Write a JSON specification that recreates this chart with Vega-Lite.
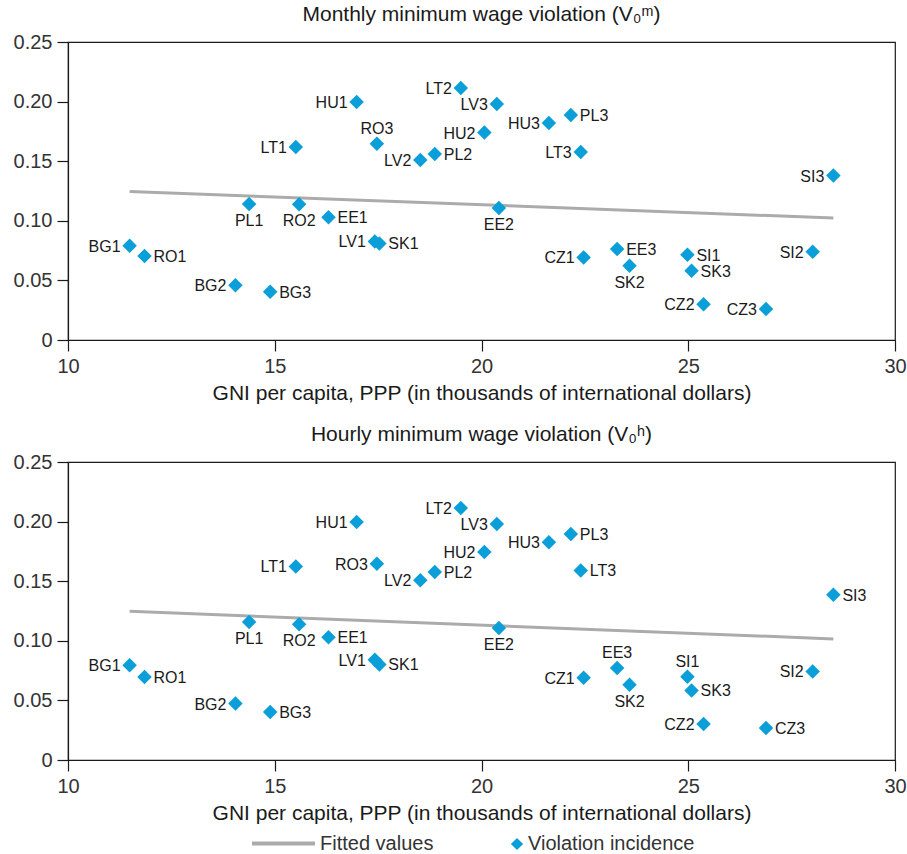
{
  "$schema": "https://vega.github.io/schema/vega-lite/v6.json",
  "padding": {"left": 12, "top": 3, "right": 8, "bottom": 2},
  "background": "white",
  "datasets": {
    "regions": [
      {"region": "BG1", "gni": 11.49, "monthly": 0.0790, "hourly": 0.0794},
      {"region": "RO1", "gni": 11.85, "monthly": 0.0705, "hourly": 0.0696},
      {"region": "BG2", "gni": 14.05, "monthly": 0.0460, "hourly": 0.0473},
      {"region": "BG3", "gni": 14.89, "monthly": 0.0405, "hourly": 0.0402},
      {"region": "PL1", "gni": 14.38, "monthly": 0.1140, "hourly": 0.1158},
      {"region": "RO2", "gni": 15.59, "monthly": 0.1138, "hourly": 0.1138},
      {"region": "EE1", "gni": 16.30, "monthly": 0.1030, "hourly": 0.1029},
      {"region": "LV1", "gni": 17.42, "monthly": 0.0827, "hourly": 0.0841},
      {"region": "SK1", "gni": 17.53, "monthly": 0.0810, "hourly": 0.0802},
      {"region": "LT1", "gni": 15.51, "monthly": 0.1620, "hourly": 0.1624},
      {"region": "HU1", "gni": 16.98, "monthly": 0.1997, "hourly": 0.1997},
      {"region": "RO3", "gni": 17.47, "monthly": 0.1647, "hourly": 0.1647},
      {"region": "LV2", "gni": 18.52, "monthly": 0.1510, "hourly": 0.1507},
      {"region": "PL2", "gni": 18.87, "monthly": 0.1560, "hourly": 0.1577},
      {"region": "LT2", "gni": 19.50, "monthly": 0.2114, "hourly": 0.2114},
      {"region": "LV3", "gni": 20.37, "monthly": 0.1980, "hourly": 0.1980},
      {"region": "HU2", "gni": 20.07, "monthly": 0.1740, "hourly": 0.1745},
      {"region": "HU3", "gni": 21.63, "monthly": 0.1820, "hourly": 0.1826},
      {"region": "PL3", "gni": 22.16, "monthly": 0.1888, "hourly": 0.1896},
      {"region": "LT3", "gni": 22.40, "monthly": 0.1577, "hourly": 0.1590},
      {"region": "SI3", "gni": 28.51, "monthly": 0.1380, "hourly": 0.1387},
      {"region": "EE2", "gni": 20.42, "monthly": 0.1107, "hourly": 0.1107},
      {"region": "CZ1", "gni": 22.47, "monthly": 0.0693, "hourly": 0.0690},
      {"region": "EE3", "gni": 23.28, "monthly": 0.0763, "hourly": 0.0772},
      {"region": "SK2", "gni": 23.58, "monthly": 0.0623, "hourly": 0.0632},
      {"region": "SI1", "gni": 24.98, "monthly": 0.0716, "hourly": 0.0699},
      {"region": "SK3", "gni": 25.08, "monthly": 0.0580, "hourly": 0.0584},
      {"region": "CZ2", "gni": 25.37, "monthly": 0.0299, "hourly": 0.0302},
      {"region": "CZ3", "gni": 26.88, "monthly": 0.0260, "hourly": 0.0268},
      {"region": "SI2", "gni": 28.01, "monthly": 0.0740, "hourly": 0.0743}
    ],
    "fit": [
      {"gni": 11.49, "monthly": 0.1246, "hourly": 0.1247},
      {"gni": 28.51, "monthly": 0.1023, "hourly": 0.1016}
    ]
  },
  "config": {
    "font": "Liberation Sans",
    "view": {"stroke": "#1a1a1a", "strokeWidth": 1.2},
    "axis": {
      "grid": false,
      "domainColor": "#1a1a1a",
      "domainWidth": 1.2,
      "tickColor": "#1a1a1a",
      "tickWidth": 1.2,
      "tickSize": 11,
      "labelPadding": 5,
      "labelFontSize": 20,
      "labelFlush": false,
      "labelColor": "#333333",
      "titleFontSize": 21,
      "titleFontWeight": "normal",
      "titleColor": "#1a1a1a"
    },
    "title": {"fontSize": 21, "fontWeight": "normal", "color": "#1a1a1a", "offset": 7},
    "legend": {
      "orient": "none",
      "direction": "horizontal",
      "labelFontSize": 20,
      "labelColor": "#333333",
      "labelLimit": 400,
      "title": null,
      "padding": 0
    },
    "concat": {"spacing": 19}
  },
  "vconcat": [
    {
      "width": 827,
      "height": 298,
      "title": "Monthly minimum wage violation (V₀ᵐ)",
      "layer": [
        {
          "data": {"name": "fit"},
          "mark": {"type": "line", "strokeWidth": 3},
          "encoding": {
            "x": {"field": "gni", "type": "quantitative", "scale": {"domain": [10, 30], "nice": false, "zero": false},
                  "axis": {"values": [10, 15, 20, 25, 30], "title": "GNI per capita, PPP (in thousands of international dollars)", "titlePadding": 6}},
            "y": {"field": "monthly", "type": "quantitative", "scale": {"domain": [0, 0.25], "nice": false},
                  "axis": {"values": [0, 0.05, 0.1, 0.15, 0.2, 0.25], "title": null, "labelExpr": "datum.value == 0 ? '0' : format(datum.value, '.2f')"}},
            "stroke": {
              "datum": "Fitted values",
              "scale": {"range": ["#ababab"]},
              "legend": {"orient": "none", "legendX": 182, "legendY": 768, "symbolType": "stroke", "symbolSize": 3969, "symbolStrokeWidth": 4, "labelOffset": 3}
            }
          }
        },
        {
          "data": {"name": "regions"},
          "mark": {"type": "point", "shape": "diamond", "filled": true, "size": 210, "opacity": 1},
          "encoding": {
            "x": {"field": "gni", "type": "quantitative"},
            "y": {"field": "monthly", "type": "quantitative"},
            "fill": {
              "datum": "Violation incidence",
              "scale": {"range": ["#0a9fd8"]},
              "legend": {"orient": "none", "legendX": 439, "legendY": 792, "symbolType": "diamond", "symbolSize": 150, "symbolStrokeWidth": 0, "labelOffset": 1}
            }
          }
        },
        {
          "data": {"name": "regions"},
          "transform": [{"filter": {"field": "region", "oneOf": ["BG1", "BG2", "LT1", "HU1", "LV2", "LT2", "LV3", "HU2", "HU3", "LT3", "SI3", "CZ1", "CZ2", "CZ3", "SI2", "LV1"]}}],
          "mark": {"type": "text", "align": "right", "baseline": "middle", "dx": -9, "dy": 1, "fontSize": 16, "color": "#1a1a1a"},
          "encoding": {"x": {"field": "gni", "type": "quantitative"}, "y": {"field": "monthly", "type": "quantitative"}, "text": {"field": "region"}}
        },
        {
          "data": {"name": "regions"},
          "transform": [{"filter": {"field": "region", "oneOf": ["RO1", "BG3", "EE1", "SK1", "PL2", "PL3", "EE3", "SI1", "SK3"]}}],
          "mark": {"type": "text", "align": "left", "baseline": "middle", "dx": 9, "dy": 1, "fontSize": 16, "color": "#1a1a1a"},
          "encoding": {"x": {"field": "gni", "type": "quantitative"}, "y": {"field": "monthly", "type": "quantitative"}, "text": {"field": "region"}}
        },
        {
          "data": {"name": "regions"},
          "transform": [{"filter": {"field": "region", "oneOf": ["PL1", "RO2", "EE2", "SK2"]}}],
          "mark": {"type": "text", "align": "center", "baseline": "middle", "dy": 17, "fontSize": 16, "color": "#1a1a1a"},
          "encoding": {"x": {"field": "gni", "type": "quantitative"}, "y": {"field": "monthly", "type": "quantitative"}, "text": {"field": "region"}}
        },
        {
          "data": {"name": "regions"},
          "transform": [{"filter": {"field": "region", "oneOf": ["RO3"]}}],
          "mark": {"type": "text", "align": "center", "baseline": "middle", "dy": -15, "fontSize": 16, "color": "#1a1a1a"},
          "encoding": {"x": {"field": "gni", "type": "quantitative"}, "y": {"field": "monthly", "type": "quantitative"}, "text": {"field": "region"}}
        }
      ]
    },
    {
      "width": 827,
      "height": 298,
      "title": "Hourly minimum wage violation (V₀ʰ)",
      "layer": [
        {
          "data": {"name": "fit"},
          "mark": {"type": "line", "strokeWidth": 3},
          "encoding": {
            "x": {"field": "gni", "type": "quantitative", "scale": {"domain": [10, 30], "nice": false, "zero": false},
                  "axis": {"values": [10, 15, 20, 25, 30], "title": "GNI per capita, PPP (in thousands of international dollars)", "titlePadding": 6}},
            "y": {"field": "hourly", "type": "quantitative", "scale": {"domain": [0, 0.25], "nice": false},
                  "axis": {"values": [0, 0.05, 0.1, 0.15, 0.2, 0.25], "title": null, "labelExpr": "datum.value == 0 ? '0' : format(datum.value, '.2f')"}},
            "stroke": {"datum": "Fitted values"}
          }
        },
        {
          "data": {"name": "regions"},
          "mark": {"type": "point", "shape": "diamond", "filled": true, "size": 210, "opacity": 1},
          "encoding": {
            "x": {"field": "gni", "type": "quantitative"},
            "y": {"field": "hourly", "type": "quantitative"},
            "fill": {"datum": "Violation incidence"}
          }
        },
        {
          "data": {"name": "regions"},
          "transform": [{"filter": {"field": "region", "oneOf": ["BG1", "BG2", "LT1", "HU1", "RO3", "LV2", "LT2", "LV3", "HU2", "HU3", "SI2", "CZ1", "CZ2", "LV1"]}}],
          "mark": {"type": "text", "align": "right", "baseline": "middle", "dx": -9, "dy": 1, "fontSize": 16, "color": "#1a1a1a"},
          "encoding": {"x": {"field": "gni", "type": "quantitative"}, "y": {"field": "hourly", "type": "quantitative"}, "text": {"field": "region"}}
        },
        {
          "data": {"name": "regions"},
          "transform": [{"filter": {"field": "region", "oneOf": ["RO1", "BG3", "EE1", "SK1", "PL2", "PL3", "LT3", "SK3", "CZ3", "SI3"]}}],
          "mark": {"type": "text", "align": "left", "baseline": "middle", "dx": 9, "dy": 1, "fontSize": 16, "color": "#1a1a1a"},
          "encoding": {"x": {"field": "gni", "type": "quantitative"}, "y": {"field": "hourly", "type": "quantitative"}, "text": {"field": "region"}}
        },
        {
          "data": {"name": "regions"},
          "transform": [{"filter": {"field": "region", "oneOf": ["PL1", "RO2", "EE2", "SK2"]}}],
          "mark": {"type": "text", "align": "center", "baseline": "middle", "dy": 17, "fontSize": 16, "color": "#1a1a1a"},
          "encoding": {"x": {"field": "gni", "type": "quantitative"}, "y": {"field": "hourly", "type": "quantitative"}, "text": {"field": "region"}}
        },
        {
          "data": {"name": "regions"},
          "transform": [{"filter": {"field": "region", "oneOf": ["EE3", "SI1"]}}],
          "mark": {"type": "text", "align": "center", "baseline": "middle", "dy": -15, "fontSize": 16, "color": "#1a1a1a"},
          "encoding": {"x": {"field": "gni", "type": "quantitative"}, "y": {"field": "hourly", "type": "quantitative"}, "text": {"field": "region"}}
        }
      ]
    }
  ]
}
